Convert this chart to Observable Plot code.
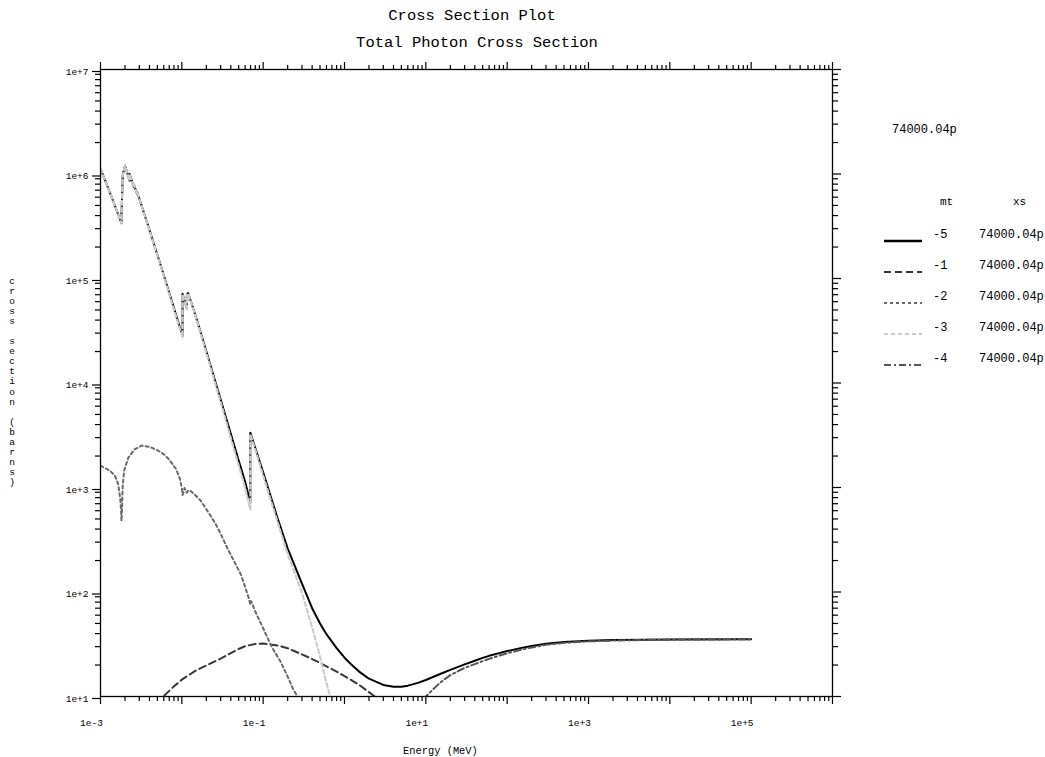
<!DOCTYPE html>
<html>
<head>
<meta charset="utf-8">
<script src="https://cdn.jsdelivr.net/npm/d3@7"></script>
<script src="https://cdn.jsdelivr.net/npm/@observablehq/plot@0.6"></script>
<style>
  html, body { margin: 0; padding: 0; background: #fff; }
  #wrap { position: relative; width: 1045px; height: 757px; font-family: "Liberation Mono", "DejaVu Sans Mono", monospace; color: #000; }
  #wrap svg { position: absolute; left: 0; top: 0; }
  .t { position: absolute; white-space: pre; }
</style>
</head>
<body>
<div id="wrap"></div>
<script>
// ---- Data (energy in MeV, cross section in barns) ----
const totalE = [0.001, 0.0015, 0.0018092, 0.0018093, 0.00184, 0.0018716, 0.0018717, 0.002, 0.002281, 0.0022811, 0.0025749, 0.002575, 0.0028196, 0.0028197, 0.003, 0.004, 0.005, 0.006, 0.008, 0.01, 0.0102068, 0.0102069, 0.0108548, 0.011544, 0.0115441, 0.011955, 0.0119551, 0.015, 0.02, 0.03, 0.04, 0.05, 0.06, 0.069525, 0.069526, 0.08, 0.1, 0.15, 0.2, 0.3, 0.4, 0.5, 0.6, 0.8, 1, 1.25, 1.5, 2, 3, 4, 5, 6, 8, 10, 15, 20, 30, 40, 50, 60, 80, 100, 150, 200, 300, 500, 1000, 2000, 5000, 1e4, 1e5];
const totalXS = [1.124e6, 5.02e5, 3.38e5, 4.05e5, 5.83e5, 8.86e5, 9.68e5, 1.197e6, 8.63e5, 1.001e6, 7.46e5, 7.93e5, 6.42e5, 6.70e5, 5.81e5, 2.92e5, 1.69e5, 1.073e5, 5.21e4, 2.96e4, 2.81e4, 7.13e4, 6.05e4, 5.16e4, 7.06e4, 6.30e4, 7.27e4, 4.24e4, 2.01e4, 6940, 3258, 1816, 1134, 720, 3350, 2384, 1400, 510, 262, 120, 70, 50, 39.5, 29, 23.5, 19.8, 17.4, 14.8, 12.9, 12.4, 12.4, 12.7, 13.5, 14.4, 16.4, 18, 20.3, 22, 23.4, 24.5, 26, 27.2, 29.2, 30.4, 31.9, 33.3, 34.2, 34.7, 35, 35.2, 35.4];

const incohE = [0.005, 0.006, 0.008, 0.01, 0.015, 0.02, 0.03, 0.04, 0.05, 0.06, 0.08, 0.1, 0.15, 0.2, 0.3, 0.4, 0.5, 0.6, 0.8, 1, 1.5, 2, 3, 4];
const incohXS = [8.5, 10.1, 12.5, 14.5, 17.8, 19.8, 23, 26, 28.5, 30.3, 31.8, 32.2, 30.8, 29, 25.3, 22.8, 21, 19.4, 17.3, 15.7, 13, 11, 8.7, 7.2];

const cohE = [0.001, 0.0013, 0.0015, 0.00165, 0.00175, 0.0018, 0.0018092, 0.00184, 0.0018716, 0.00195, 0.0022, 0.0026, 0.0032, 0.004, 0.005, 0.006, 0.007, 0.0085, 0.0095, 0.01, 0.0102068, 0.0105, 0.0108, 0.0112, 0.0115, 0.012, 0.013, 0.015, 0.017, 0.02, 0.026, 0.03, 0.037, 0.045, 0.053, 0.06, 0.066, 0.069525, 0.0705, 0.073, 0.08, 0.1, 0.107, 0.13, 0.164, 0.2, 0.237, 0.264, 0.3];
const cohXS = [1620, 1450, 1300, 1080, 780, 560, 480, 620, 1000, 1450, 1930, 2300, 2520, 2450, 2280, 2080, 1850, 1500, 1200, 980, 850, 900, 990, 940, 890, 940, 920, 830, 750, 620, 450, 360, 255, 190, 148, 112, 89, 76, 82, 78, 65, 45, 40, 29, 21.5, 15.5, 11.5, 10, 8];

const photoE = [0.001, 0.0015, 0.0018092, 0.0018093, 0.00184, 0.0018716, 0.0018717, 0.002, 0.002281, 0.0022811, 0.0025749, 0.002575, 0.0028196, 0.0028197, 0.003, 0.004, 0.005, 0.006, 0.008, 0.01, 0.0102068, 0.0102069, 0.0108548, 0.011544, 0.0115441, 0.011955, 0.0119551, 0.015, 0.02, 0.03, 0.04, 0.05, 0.06, 0.069525, 0.069526, 0.08, 0.1, 0.15, 0.2, 0.25, 0.3, 0.4, 0.5, 0.6, 0.7, 0.8, 1];
const photoXS = [1.122e6, 5.00e5, 3.37e5, 4.04e5, 5.82e5, 8.85e5, 9.67e5, 1.195e6, 8.61e5, 9.99e5, 7.44e5, 7.91e5, 6.40e5, 6.68e5, 5.79e5, 2.89e5, 1.67e5, 1.053e5, 5.05e4, 2.86e4, 2.72e4, 7.04e4, 5.95e4, 5.07e4, 6.97e4, 6.21e4, 7.18e4, 4.16e4, 1.94e4, 6550, 2980, 1620, 990, 612, 3240, 2290, 1300, 470, 230, 145, 98, 46, 24, 13.5, 8.7, 6.1, 3.5];

const pairE = [5, 8, 10, 15, 20, 30, 40, 50, 60, 80, 100, 150, 200, 300, 500, 1000, 2000, 5000, 1e4, 1e5];
const pairXS = [3.9, 7.6, 10, 13.6, 16, 18.8, 20.4, 21.8, 22.9, 24.6, 25.9, 28.1, 29.5, 31.2, 32.6, 33.7, 34.3, 34.8, 35, 35.3];

// legend / series labels
const mtLabels = ["-5", "-1", "-2", "-3", "-4"];
const xsLabel = "74000.04p";
const xExponents = [-3, -2, -1, 0, 1, 2, 3, 4, 5, 6];
const yExponents = [1, 2, 3, 4, 5, 6, 7];
const xLabelExponents = [-3, -1, 1, 3, 5];

// ---- styles ----
const styles = [
  {stroke: "#000000", dash: null, width: 2, legendWidth: 2.6},
  {stroke: "#383838", dash: "7,4", width: 2, legendWidth: 2.2},
  {stroke: "#6a6a6a", dash: "3,3", width: 2, legendWidth: 1.8},
  {stroke: "#cccccc", dash: "4,3", width: 2.2, legendWidth: 1.8},
  {stroke: "#555555", dash: "7,3,2,3", width: 2, legendWidth: 2}
];

const rows = (E, S) => E.map((e, i) => ({E: e, S: S[i]}));
const series = [rows(totalE, totalXS), rows(incohE, incohXS), rows(cohE, cohXS), rows(photoE, photoXS), rows(pairE, pairXS)];

const fmtExp = (e) => "1e" + (e < 0 ? "-" : "+") + Math.abs(e);
const xMajor = xExponents.map(e => Math.pow(10, e));
const yMajor = yExponents.map(e => Math.pow(10, e));
const xMinor = xExponents.slice(0, -1).flatMap(e => d3.range(2, 10).map(m => m * Math.pow(10, e)));
const yMinor = yExponents.slice(0, -1).flatMap(e => d3.range(2, 10).map(m => m * Math.pow(10, e)));
const xLabeled = xLabelExponents.map(e => Math.pow(10, e));

const tickStyle = {stroke: "#000", strokeWidth: 1.2, label: null};
const noText = () => "";

const lineMarks = series.map((data, i) => Plot.line(data, {
  x: "E", y: "S", stroke: styles[i].stroke, strokeWidth: styles[i].width,
  strokeDasharray: styles[i].dash, clip: true, curve: "linear"
}));

const chart = Plot.plot({
  width: 1045,
  height: 757,
  marginLeft: 100,
  marginRight: 213,
  marginTop: 69,
  marginBottom: 61,
  style: {fontFamily: "'Liberation Mono', 'DejaVu Sans Mono', monospace", fontSize: "9.5px", background: "transparent", color: "#000"},
  x: {type: "log", domain: [1e-3, 1e6]},
  y: {type: "log", domain: [10, 1e7]},
  marks: [
    ...lineMarks,
    Plot.frame({stroke: "#000", strokeWidth: 1.3}),
    // bottom
    Plot.axisX(xMajor, {anchor: "bottom", tickSize: 8, tickFormat: noText, ...tickStyle}),
    Plot.axisX(xMinor, {anchor: "bottom", tickSize: 5, tickFormat: noText, ...tickStyle}),
    Plot.axisX(xLabeled, {anchor: "bottom", tickSize: 0, tickPadding: 23, dx: -9, tickFormat: d => fmtExp(Math.round(Math.log10(d))), label: null}),
    // top
    Plot.axisX(xMajor, {anchor: "top", tickSize: 8, tickFormat: noText, ...tickStyle}),
    Plot.axisX(xMinor, {anchor: "top", tickSize: 5, tickFormat: noText, ...tickStyle}),
    // left
    Plot.axisY(yMajor, {anchor: "left", tickSize: 8, tickPadding: 4, dy: 2, tickFormat: d => fmtExp(Math.round(Math.log10(d))), ...tickStyle}),
    Plot.axisY(yMinor, {anchor: "left", tickSize: 5, tickFormat: noText, ...tickStyle}),
    // right
    Plot.axisY(yMajor, {anchor: "right", tickSize: 8, tickFormat: noText, ...tickStyle}),
    Plot.axisY(yMinor, {anchor: "right", tickSize: 5, tickFormat: noText, ...tickStyle})
  ]
});

const wrap = document.getElementById("wrap");
wrap.appendChild(chart);

function addText(txt, x, y, size, anchor) {
  const d = document.createElement("div");
  d.className = "t";
  d.textContent = txt;
  d.style.left = x + "px";
  d.style.top = y + "px";
  d.style.fontSize = size + "px";
  d.style.lineHeight = "1";
  d.style.transform = anchor === "middle" ? "translate(-50%,-50%)" : "translate(0,-50%)";
  wrap.appendChild(d);
  return d;
}

// titles
addText("Cross Section Plot", 472, 17, 15.5, "middle");
addText("Total Photon Cross Section", 477, 44, 15.5, "middle");

// axis labels
addText("Energy (MeV)", 403, 751, 10.4, "start");
const yl = document.createElement("div");
yl.className = "t";
yl.style.left = "0px";
yl.style.top = "277px";
yl.style.width = "24px";
yl.style.textAlign = "center";
yl.style.fontSize = "9.5px";
yl.style.lineHeight = "10.05px";
yl.style.whiteSpace = "pre";
yl.textContent = "cross section (barns)".split("").join("\n");
wrap.appendChild(yl);

// legend
addText(xsLabel, 892, 130, 12, "start");
addText("mt", 940, 202, 11, "start");
addText("xs", 1013, 202, 11, "start");
const rowY = [235, 266, 297, 328, 359];
mtLabels.forEach((m, i) => {
  const y = rowY[i];
  const ns = "http://www.w3.org/2000/svg";
  const s = document.createElementNS(ns, "svg");
  s.setAttribute("width", 40);
  s.setAttribute("height", 8);
  s.style.position = "absolute";
  s.style.left = "883px";
  s.style.top = (y + 2) + "px";
  const l = document.createElementNS(ns, "line");
  l.setAttribute("x1", 1); l.setAttribute("x2", 39);
  l.setAttribute("y1", 4); l.setAttribute("y2", 4);
  l.setAttribute("stroke", styles[i].stroke);
  l.setAttribute("stroke-width", styles[i].legendWidth);
  if (styles[i].dash) l.setAttribute("stroke-dasharray", styles[i].dash);
  s.appendChild(l);
  wrap.appendChild(s);
  addText(m, 933, y, 12, "start");
  addText(xsLabel, 979, y, 12, "start");
});
</script>
</body>
</html>
